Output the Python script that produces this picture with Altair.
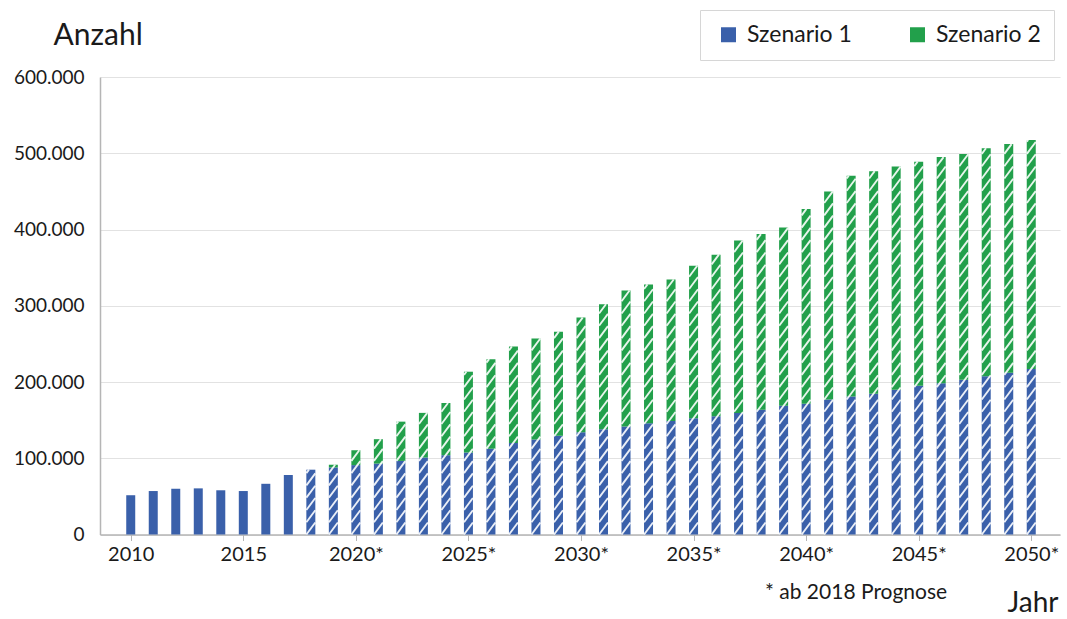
import altair as alt
import pandas as pd

# ---------------- data ----------------
jahre = list(range(2010, 2051))
# Szenario 1 (blue part), in thousands
szenario1 = [51.5, 57, 60, 60.5, 58, 57, 66.5, 78, 85, 88,
             91, 93, 96.5, 101, 104, 107.5, 112.5, 120, 124.5, 129.5,
             134, 138, 141.5, 146, 149, 152.5, 155, 159.5, 163.5, 169,
             171.5, 177, 181, 184.5, 190, 195, 198.5, 203, 207.5, 212,
             217]
# Szenario 2 (total bar height incl. blue part), in thousands
gesamt = [51.5, 57, 60, 60.5, 58, 57, 66.5, 78, 85, 91.5,
          110.5, 125, 148, 159.5, 172.5, 213.5, 230, 246.5, 257, 266,
          284.5, 302, 320, 328, 334.5, 352.5, 367, 385.5, 394, 402.5,
          427, 450, 470.5, 476.5, 482.5, 489, 495, 499, 506.5, 512,
          517.5]
serien = ["Szenario 1", "Szenario 2"]
farben = ["#3a60aa", "#22a04b"]
x_ticks = [2010, 2015, 2020, 2025, 2030, 2035, 2040, 2045, 2050]
y_ticks = [0, 100000, 200000, 300000, 400000, 500000, 600000]
prognose_ab = 2018
fussnote = "* ab 2018 Prognose"

FONT = "Lato"

rows = []
for j, a, g in zip(jahre, szenario1, gesamt):
    rows.append({"Jahr": j, "Serie": serien[0], "von": 0.0, "bis": a * 1000})
    if g > a:
        rows.append({"Jahr": j, "Serie": serien[1], "von": a * 1000, "bis": g * 1000})
bars_df = pd.DataFrame(rows)

# ---------------- hatch pattern for forecast bars ----------------
half = 4.5 / 22.75      # half bar width in years
rise = 15700            # rise of one stripe across the bar (value units)
gap = 16100             # vertical spacing of stripes (value units)
hatch_rows = []
for j, g in zip(jahre, gesamt):
    if j < prognose_ab:
        continue
    top = g * 1000
    k = -1
    while True:
        y0 = k * gap
        if y0 >= top:
            break
        y1 = y0 + rise
        x0 = j - half
        xa, xb, ya, yb = x0, j + half, y0, y1
        if ya < 0:
            xa = x0 + (0 - y0) / rise * (2 * half)
            ya = 0
        if yb > top:
            xb = x0 + (top - y0) / rise * (2 * half)
            yb = top
        if yb > ya:
            hatch_rows.append({"xa": xa, "xb": xb, "ya": ya, "yb": yb})
        k += 1
hatch_df = pd.DataFrame(hatch_rows)

xscale = alt.Scale(domain=[2008.857, 2051.055], nice=False, zero=False)
yscale = alt.Scale(domain=[0, 600000], nice=False)

bars = alt.Chart(bars_df).mark_bar(size=9).encode(
    x=alt.X("Jahr:Q", scale=xscale,
            axis=alt.Axis(values=x_ticks, format="d",
                          labelExpr="datum.value >= 2020 ? datum.value + '*' : '' + datum.value",
                          grid=False, ticks=True, tickSize=6, tickColor="#b5b5b5",
                          domainColor="#b5b5b5", domainWidth=1.5,
                          labelFont=FONT, labelFontSize=20, labelColor="#1a1a1a",
                          labelPadding=4,
                          title="Jahr", titleFont=FONT, titleFontSize=28,
                          titleFontWeight="normal", titleColor="#1a1a1a",
                          titleAlign="left", titleBaseline="alphabetic",
                          titleX=907, titleY=77, titleAngle=0)),
    y=alt.Y("bis:Q", scale=yscale,
            axis=alt.Axis(values=y_ticks,
                          labelExpr="replace(format(datum.value, ','), ',', '.')",
                          grid=True, gridColor="#e2e2e2", gridWidth=1.2,
                          ticks=False, domainColor="#b5b5b5", domainWidth=1.5,
                          labelFont=FONT, labelFontSize=19, labelColor="#1a1a1a",
                          labelPadding=16,
                          title="Anzahl", titleFont=FONT, titleFontSize=30,
                          titleFontWeight="normal", titleColor="#1a1a1a",
                          titleAngle=0, titleAlign="left", titleBaseline="alphabetic",
                          titleX=-47, titleY=-33)),
    y2="von:Q",
    color=alt.Color("Serie:N",
                    scale=alt.Scale(domain=serien, range=farben),
                    legend=alt.Legend(title=None, orient="none", legendX=600, legendY=-67,
                                      direction="horizontal", symbolType="square",
                                      symbolSize=225, symbolStrokeWidth=0, symbolOffset=4,
                                      labelFont=FONT, labelFontSize=23, labelColor="#1a1a1a",
                                      labelOffset=7, columnPadding=50, padding=13,
                                      strokeColor="#d6d6d6", fillColor="white")),
)

hatch = alt.Chart(hatch_df).mark_rule(color="white", strokeWidth=1.9, opacity=0.9).encode(
    x=alt.X("xa:Q", scale=xscale),
    x2="xb:Q",
    y=alt.Y("ya:Q", scale=yscale),
    y2="yb:Q",
)

note = alt.Chart(pd.DataFrame({"t": [fussnote]})).mark_text(
    font=FONT, fontSize=21, color="#1a1a1a", align="left", baseline="alphabetic"
).encode(x=alt.value(665), y=alt.value(522), text="t:N")

chart = alt.layer(bars, hatch, note).properties(
    width=960, height=457.5,
    autosize=alt.AutoSizeParams(type="none"),
    padding={"left": 100, "top": 77, "right": 7, "bottom": 84.5},
).configure_view(stroke=None)

chart.save("out.html", embed_options={"renderer": "svg", "actions": False})
